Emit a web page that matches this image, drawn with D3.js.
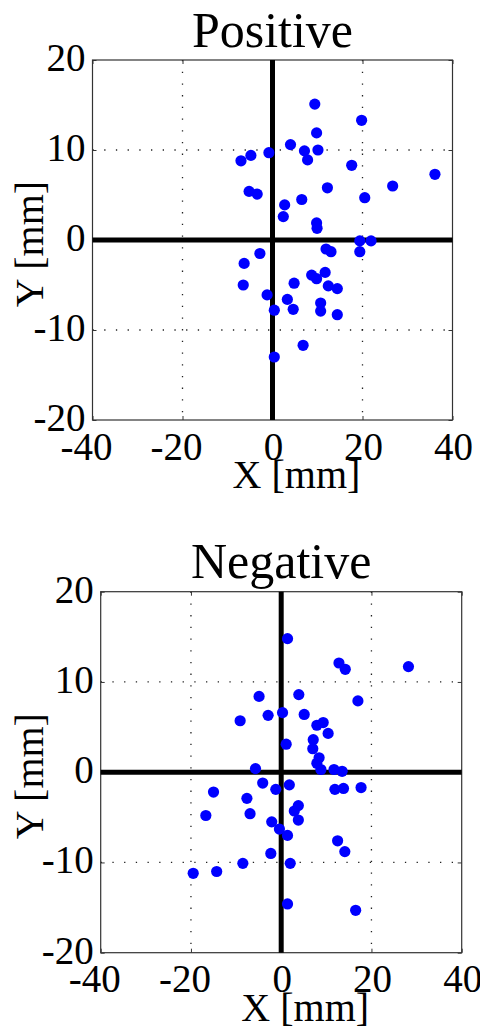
<!DOCTYPE html>
<html lang="en">
<head>
<meta charset="UTF-8">
<title>Positive / Negative</title>
<script src="https://cdn.jsdelivr.net/npm/d3@7/dist/d3.min.js"></script>
<style>
    html, body { margin: 0; padding: 0; background: #fff; }
    svg { display: block; }
    text { font-family: "Liberation Serif", "Times New Roman", serif; fill: #000; }
</style>
</head>
<body>
<svg id="chart" width="480" height="1030"></svg>
<script>
    // values (mm)
    let posX = [-7.0, -4.8, -0.8, -5.2, -3.4, 9.4, 9.8, 4.0, 7.1, 10.1, 7.8, 19.8, 17.6, 36.1, 26.7,
        12.2, 20.5, 6.5, 2.7, 2.4, 9.8, 9.9, 19.4, 21.9, 19.4, 11.9, 13.0, -2.8, -6.3, -6.5,
        -1.2, 0.4, 0.4, 8.7, 9.8, 11.7, 12.4, 14.4, 4.8, 3.3, 4.6, 10.7, 10.7, 14.4, 6.8]
    let posY = [8.8, 9.4, 9.7, 5.4, 5.1, 15.1, 11.9, 10.6, 9.9, 10.0, 8.9, 13.3, 8.3, 7.3, 6.0,
        5.8, 4.7, 4.5, 3.9, 2.6, 1.9, 1.3, -0.1, -0.1, -1.3, -1.0, -1.3, -1.5, -2.6, -5.0,
        -6.1, -7.8, -13.0, -3.9, -4.3, -3.6, -5.1, -5.4, -4.8, -6.6, -7.7, -7.0, -7.9, -8.3, -11.7]

    let negX = [-4.9, -2.9, 0.3, -9.1, -5.7, 1.4, 12.8, 14.2, 28.2, 3.9, 17.0, 5.1, 7.9, 9.3, 10.4,
        1.1, 7.1, 7.0, 8.4, 7.9, 8.8, 11.7, 13.5, -4.1, -1.2, -15.0, -7.6, -16.7, -6.9, -2.1,
        -0.4, -2.3, -8.5, -19.5, -14.3, 1.8, 11.9, 13.8, 17.7, 3.8, 2.9, 3.8, 1.4, 12.5, 14.1,
        2.0, 1.4, 16.5]
    let negY = [8.4, 6.3, 6.6, 5.7, 0.4, 14.8, 12.1, 11.4, 11.7, 8.6, 7.9, 6.4, 5.2, 5.5, 4.3,
        3.1, 3.6, 2.6, 1.6, 1.0, 0.3, 0.3, 0.1, -1.2, -1.9, -2.2, -2.9, -4.8, -4.6, -5.5,
        -6.3, -9.0, -10.1, -11.2, -11.0, -1.4, -1.9, -1.8, -1.7, -3.7, -4.3, -5.3, -7.0, -7.6, -8.8,
        -10.1, -14.6, -15.3]

    let xTicks = [-40, -20, 0, 20, 40]
    let yTicks = [20, 10, 0, -10, -20]
    let xGrid = [-20, 20]
    let yGrid = [10, -10]

    let svg = d3.select("#chart")

    let panels = [
        { title: "Positive", xs: posX, ys: posY, left: 92.5, top: 60, size: 360 },
        { title: "Negative", xs: negX, ys: negY, left: 100.7, top: 591.7, size: 361 }
    ]

    panels.forEach(p => drawPanel(p))

    function drawPanel(p) {
        let g = svg.append("g").attr("transform", `translate(${p.left},${p.top})`)
        let w = p.size, h = p.size

        let x = d3.scaleLinear().domain([-40, 40]).range([0, w])
        let y = d3.scaleLinear().domain([-20, 20]).range([h, 0])

        // dotted grid
        g.selectAll(".gx").data(xGrid).enter().append("line")
            .attr("x1", d => x(d)).attr("x2", d => x(d))
            .attr("y1", 0).attr("y2", h)
            .attr("stroke", "#222").attr("stroke-width", 1.3)
            .attr("stroke-dasharray", "1.3,10.4")
        g.selectAll(".gy").data(yGrid).enter().append("line")
            .attr("y1", d => y(d)).attr("y2", d => y(d))
            .attr("x1", 0).attr("x2", w)
            .attr("stroke", "#222").attr("stroke-width", 1.3)
            .attr("stroke-dasharray", "1.3,10.4")

        // inward ticks on all four sides
        let tl = 4
        let bottomAx = d3.axisBottom(x).tickValues(xTicks).tickSizeInner(-tl).tickSizeOuter(0).tickFormat("")
        let topAx = d3.axisTop(x).tickValues(xTicks).tickSizeInner(-tl).tickSizeOuter(0).tickFormat("")
        let leftAx = d3.axisLeft(y).tickValues(yTicks).tickSizeInner(-tl).tickSizeOuter(0).tickFormat("")
        let rightAx = d3.axisRight(y).tickValues(yTicks).tickSizeInner(-tl).tickSizeOuter(0).tickFormat("")
        g.append("g").attr("transform", `translate(0,${h})`).call(bottomAx)
        g.append("g").call(topAx)
        g.append("g").call(leftAx)
        g.append("g").attr("transform", `translate(${w},0)`).call(rightAx)
        g.selectAll(".domain").remove()
        g.selectAll(".tick line").attr("stroke", "#333").attr("stroke-width", 1)

        // box
        g.append("rect").attr("width", w).attr("height", h)
            .attr("fill", "none").attr("stroke", "#333").attr("stroke-width", 1.2)

        // thick zero lines
        g.append("line").attr("x1", x(0)).attr("x2", x(0)).attr("y1", 0).attr("y2", h)
            .attr("stroke", "#000").attr("stroke-width", 5)
        g.append("line").attr("x1", 0).attr("x2", w).attr("y1", y(0)).attr("y2", y(0))
            .attr("stroke", "#000").attr("stroke-width", 5)

        // points
        let pts = p.xs.map((v, i) => ({ x: v, y: p.ys[i] }))
        g.selectAll("circle").data(pts).enter().append("circle")
            .attr("cx", d => x(d.x)).attr("cy", d => y(d.y))
            .attr("r", 5.6).attr("fill", "#0000ff")

        // tick labels (negative ones sit a little left, as in the original)
        g.selectAll(".xl").data(xTicks).enter().append("text")
            .attr("x", d => x(d) + (d < 0 ? -6 : 1)).attr("y", h + 39.5)
            .attr("text-anchor", "middle").style("font-size", "39px")
            .text(d => d)
        g.selectAll(".yl").data(yTicks).enter().append("text")
            .attr("x", -7).attr("y", d => y(d) + 11)
            .attr("text-anchor", "end").style("font-size", "39px")
            .text(d => d)

        // title and axis labels
        g.append("text").attr("x", w / 2).attr("y", -13.5)
            .attr("text-anchor", "middle").style("font-size", "50px")
            .text(p.title)
        g.append("text").attr("x", w / 2 + 24).attr("y", h + 68)
            .attr("text-anchor", "middle").style("font-size", "40px")
            .text("X [mm]")
        g.append("text")
            .attr("transform", `translate(${43 - p.left},${h / 2 + 4}) rotate(-90)`)
            .attr("text-anchor", "middle").style("font-size", "40px")
            .text("Y [mm]")
    }
</script>
</body>
</html>
